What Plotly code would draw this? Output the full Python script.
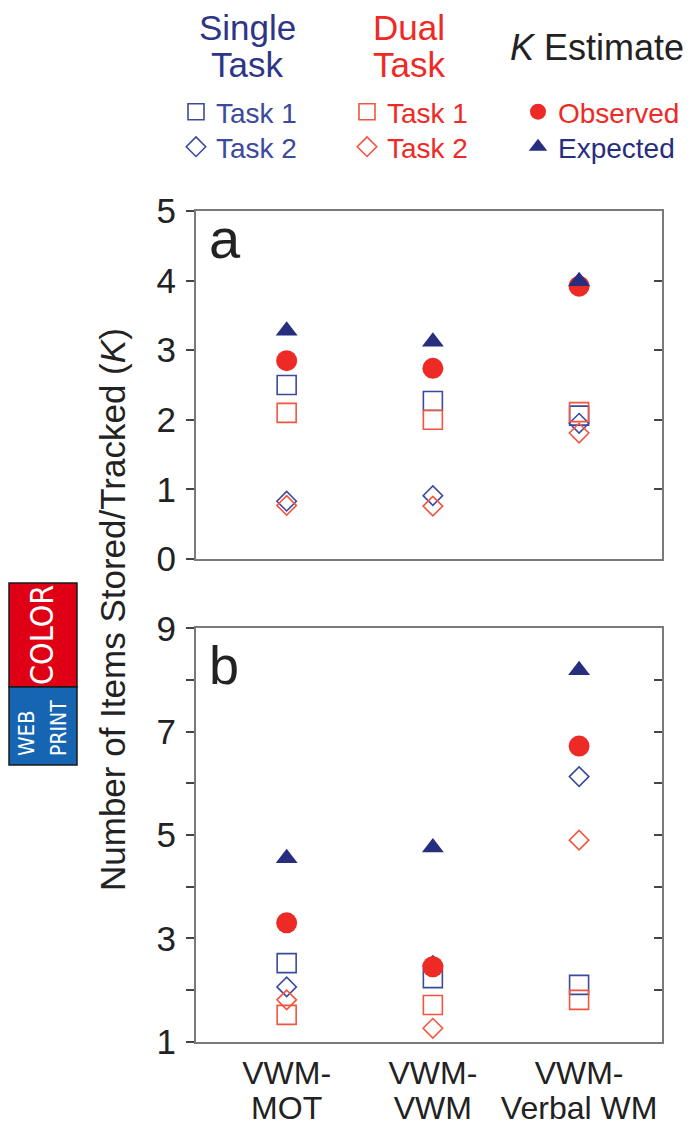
import plotly.graph_objects as go

# The page body keeps its default 8px margin, so the figure is drawn 8px in
# from the top-left corner; size it so that it fills the 698x1125 window.
PAGE_W, PAGE_H = 698, 1125
OFF = 8
W, H = PAGE_W - OFF, PAGE_H - OFF

# ---------------- data ----------------
categories = ["VWM-MOT", "VWM-VWM", "VWM-Verbal WM"]
category_line1 = ["VWM-", "VWM-", "VWM-"]
category_line2 = ["MOT", "VWM", "Verbal WM"]

# panel a
a_single_task1 = [2.50, 2.27, 2.06]
a_single_task2 = [0.83, 0.91, 1.95]
a_dual_task1 = [2.10, 2.00, 2.11]
a_dual_task2 = [0.77, 0.76, 1.81]
a_observed = [2.85, 2.74, 3.92]
a_expected = [3.28, 3.12, 3.99]

# panel b
b_single_task1 = [2.52, 2.23, 2.10]
b_single_task2 = [2.06, 2.47, 6.13]
b_dual_task1 = [1.52, 1.71, 1.81]
b_dual_task2 = [1.81, 1.26, 4.90]
b_observed = [3.30, 2.45, 6.72]
b_expected = [4.55, 4.76, 8.19]

a_ticks = [0, 1, 2, 3, 4, 5]
a_ticklabels = ["0", "1", "2", "3", "4", "5"]
b_ticks = [1, 2, 3, 4, 5, 6, 7, 8, 9]
b_ticklabels = ["1", "", "3", "", "5", "", "7", "", "9"]

# ---------------- style ----------------
FONT = "Liberation Sans, Arial, Helvetica, sans-serif"
NARROW = "Liberation Sans Narrow, Arial Narrow, DejaVu Sans Condensed, Liberation Sans, sans-serif"
BLUE = "#3C4A9C"
NAVY = "#272E7E"
RED = "#EE2A26"
LRED = "#F2553F"
TXT = "#222222"
AXC = "#7A7A7A"
TICKC = "#444444"


def px(xp):
    """page pixel -> paper fraction"""
    return (xp - OFF) / W


def py(yp):
    return 1 - (yp - OFF) / H


series = [
    # key, name, symbol, size, color, filled, legend, legend font color
    ("single1", "Task 1", "square-open", 19, BLUE, False, "legend", BLUE),
    ("single2", "Task 2", "diamond-open", 15, BLUE, False, "legend2", BLUE),
    ("dual1", "Task 1", "square-open", 19, LRED, False, "legend3", RED),
    ("dual2", "Task 2", "diamond-open", 15, LRED, False, "legend4", RED),
    ("obs", "Observed", "circle", 21, RED, True, "legend5", RED),
    ("exp", "Expected", "triangle-up", 19, NAVY, True, "legend6", NAVY),
]
panel_a = {"single1": a_single_task1, "single2": a_single_task2, "dual1": a_dual_task1,
           "dual2": a_dual_task2, "obs": a_observed, "exp": a_expected}
panel_b = {"single1": b_single_task1, "single2": b_single_task2, "dual1": b_dual_task1,
           "dual2": b_dual_task2, "obs": b_observed, "exp": b_expected}

fig = go.Figure()
# panel a: base subplot x/y, expected drawn on the overlay x/y3 (right-hand ticks)
# panel b: base subplot x2/y2, expected drawn on the overlay x3/y4 (right ticks + 2nd label line)
for panel, (xa, ya, xa_over, ya_over), show in [
    (panel_a, ("x", "y", "x", "y3"), True),
    (panel_b, ("x2", "y2", "x3", "y4"), False),
]:
    for key, name, sym, size, col, filled, leg, lcol in series:
        marker = dict(symbol=sym, size=size, color=col,
                      line=dict(width=0 if filled else 1.6, color=col))
        over = key == "exp"
        fig.add_trace(go.Scatter(
            x=categories, y=panel[key], mode="markers", name=name, marker=marker,
            xaxis=xa_over if over else xa, yaxis=ya_over if over else ya,
            showlegend=show, legend=leg, cliponaxis=False, hoverinfo="x+y+name",
        ))

xdom = [px(196), px(662)]
a_dom = [py(559), py(211)]
b_dom = [py(1041.7), py(628.3)]
xrange = [-0.62, 2.567]

common_x = dict(type="category", categoryorder="array", categoryarray=categories,
                range=xrange, domain=xdom, showline=True, linecolor=AXC, linewidth=2,
                mirror=True, ticks="", showgrid=False, zeroline=False, automargin=False)
common_y = dict(showline=True, linecolor=AXC, linewidth=2, ticks="outside", ticklen=8,
                tickwidth=1.5, tickcolor=TICKC, showgrid=False, zeroline=False, automargin=False,
                tickfont=dict(family=FONT, size=35, color=TXT), ticklabelstandoff=3)
right_y = dict(side="right", showline=True, linecolor=AXC, linewidth=2, ticks="inside",
               ticklen=8, tickwidth=1.5, tickcolor=TICKC, showticklabels=False,
               showgrid=False, zeroline=False, automargin=False)
cat_font = dict(family=FONT, size=32, color=TXT)

# legend box left = symbol centre - 20 (plotly puts the symbol 20px in, text 41px in)
legend_rows = {"legend": (196, 112), "legend2": (196, 147), "legend3": (367, 112),
               "legend4": (367, 147), "legend5": (538, 112), "legend6": (538, 147)}
legend_layout = {}
for key, name, sym, size, col, filled, leg, lcol in series:
    sx, sy = legend_rows[leg]
    legend_layout[leg] = dict(x=px(sx - 20), y=py(sy), xanchor="left", yanchor="middle",
                              bgcolor="rgba(0,0,0,0)", borderwidth=0,
                              font=dict(family=FONT, size=28, color=lcol))

fig.update_layout(
    width=W, height=H, margin=dict(l=0, r=0, t=0, b=0, autoexpand=False),
    paper_bgcolor="white", plot_bgcolor="white",
    xaxis=dict(anchor="y", showticklabels=False, **common_x),
    yaxis=dict(anchor="x", domain=a_dom, range=[0, 5], tickvals=a_ticks, ticktext=a_ticklabels, **common_y),
    yaxis3=dict(anchor="x", overlaying="y", range=[0, 5], tickvals=a_ticks, **right_y),
    xaxis2=dict(anchor="y2", tickvals=categories, ticktext=category_line1,
                tickfont=cat_font, ticklabelstandoff=2, **common_x),
    xaxis3=dict(anchor="y2", overlaying="x2", tickvals=categories, ticktext=category_line2,
                tickfont=cat_font, ticklabelstandoff=44,
                **{**common_x, "showline": False, "mirror": False}),
    yaxis2=dict(anchor="x2", domain=b_dom, range=[1, 9], tickvals=b_ticks, ticktext=b_ticklabels, **common_y),
    yaxis4=dict(anchor="x2", overlaying="y2", range=[1, 9], tickvals=b_ticks, **right_y),
    **legend_layout,
)

annotations = [
    dict(text="Single", x=px(247), y=py(27.5), font=dict(size=35, color="#2E3587")),
    dict(text="Task", x=px(247), y=py(65), font=dict(size=35, color="#2E3587")),
    dict(text="Dual", x=px(409), y=py(27.5), font=dict(size=35, color=RED)),
    dict(text="Task", x=px(409), y=py(65), font=dict(size=35, color=RED)),
    dict(text="<i>K</i> Estimate", x=px(597), y=py(47.5), font=dict(size=36, color=TXT)),
    dict(text="Number of Items Stored/Tracked (<i>K</i>)", x=px(113), y=py(610), textangle=-90,
         font=dict(size=35, color=TXT)),
    dict(text="a", x=px(207), y=py(238), xanchor="left", font=dict(size=56, color=TXT)),
    dict(text="b", x=px(207), y=py(665), xanchor="left", font=dict(size=54, color=TXT)),
]
for a in annotations:
    a.setdefault("xanchor", "center")
    a.setdefault("yanchor", "middle")
    a["font"].setdefault("family", FONT)
    fig.add_annotation(xref="paper", yref="paper", showarrow=False, **a)

# WEB PRINT COLOR badge
fig.add_shape(type="rect", xref="paper", yref="paper", x0=px(9), x1=px(77), y0=py(687), y1=py(583),
              fillcolor="#DF0015", line=dict(color="#1A1A1A", width=1.5), layer="above")
fig.add_shape(type="rect", xref="paper", yref="paper", x0=px(9), x1=px(77), y0=py(765), y1=py(687),
              fillcolor="#1565B2", line=dict(color="#1A1A1A", width=1.5), layer="above")
fig.add_annotation(xref="paper", yref="paper", x=px(42), y=py(635), text="COLOR", textangle=-90,
                   showarrow=False, xanchor="center", yanchor="middle",
                   font=dict(family=NARROW, size=32, color="white"))
fig.add_annotation(xref="paper", yref="paper", x=px(26), y=py(758), text="WEB", textangle=-90,
                   showarrow=False, xanchor="center", yanchor="bottom",
                   font=dict(family=NARROW, size=22, color="white"))
fig.add_annotation(xref="paper", yref="paper", x=px(59), y=py(758), text="PRINT", textangle=-90,
                   showarrow=False, xanchor="center", yanchor="bottom",
                   font=dict(family=NARROW, size=21, color="white"))

fig.write_html("out.html")
